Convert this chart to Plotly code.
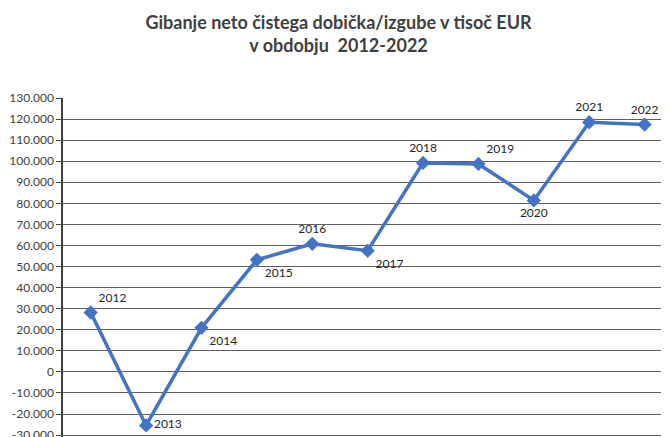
import plotly.graph_objects as go

years = ["2012", "2013", "2014", "2015", "2016", "2017", "2018", "2019", "2020", "2021", "2022"]
values = [28200, -25400, 20900, 53200, 60800, 57500, 99200, 98700, 81400, 118500, 117400]
label_pos = ["top right", "middle right", "bottom right", "bottom right", "top center",
             "bottom right", "top center", "top right", "bottom center", "top center", "top center"]
y_ticks = list(range(-30000, 130001, 10000))
y_tick_text = [f"{v:,}".replace(",", ".") for v in y_ticks]

fig = go.Figure()
fig.add_trace(go.Scatter(
    x=years, y=values, mode="lines+markers+text",
    line=dict(color="#4472C4", width=3.5),
    marker=dict(symbol="diamond", size=11, color="#4472C4"),
    text=years, textposition=label_pos,
    textfont=dict(family="Lato, Open Sans, sans-serif", size=12, color="#262626"),
    cliponaxis=False,
))

fig.update_layout(
    width=669, height=437,
    margin=dict(l=55, r=8, t=90, b=8),
    paper_bgcolor="white", plot_bgcolor="white",
    showlegend=False,
    title=dict(
        text="<b>Gibanje neto čistega dobička/izgube v tisoč EUR<br>v obdobju  2012-2022</b>",
        x=0.4941, xanchor="center", y=0.953, yanchor="top",
        font=dict(family="Lato, Open Sans, sans-serif", size=18, color="#404040"),
    ),
    xaxis=dict(
        type="category", range=[-0.5, 10.44], automargin=False,
        showticklabels=False, showgrid=False, zeroline=False, showline=False,
    ),
    yaxis=dict(
        range=[-30900, 130000], automargin=False,
        tickvals=y_ticks, ticktext=y_tick_text,
        showgrid=True, gridcolor="#5f5f5f", gridwidth=1,
        zeroline=False,
        showline=True, linecolor="#404040", linewidth=1.5,
        ticks="outside", ticklen=5, tickcolor="#404040",
        tickfont=dict(family="Lato, Open Sans, sans-serif", size=12, color="#404040"),
    ),
)

fig.write_html("out.html")
